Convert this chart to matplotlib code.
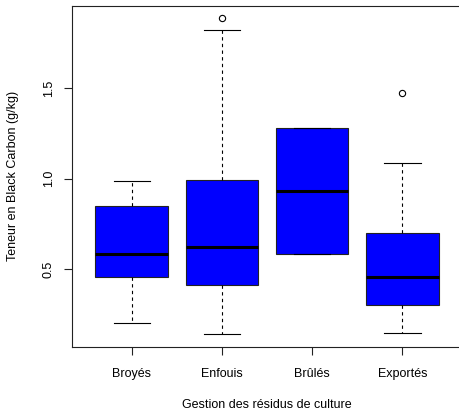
import matplotlib
matplotlib.use("Agg")
import matplotlib.pyplot as plt

plt.rcParams['font.family'] = ['Liberation Sans', 'DejaVu Sans']

# Black carbon content by crop residue management (g/kg)
categories = ["Broyés", "Enfouis", "Brûlés", "Exportés"]
whisker_low = [0.202, 0.141, 0.583, 0.150]
q1 = [0.456, 0.415, 0.583, 0.301]
medians = [0.583, 0.621, 0.930, 0.459]
q3 = [0.851, 0.994, 1.281, 0.700]
whisker_high = [0.989, 1.822, 1.281, 1.088]
outliers = [[], [1.884], [], [1.471]]

stats = []
for i, name in enumerate(categories):
    stats.append({
        "label": name,
        "whislo": whisker_low[i],
        "q1": q1[i],
        "med": medians[i],
        "q3": q3[i],
        "whishi": whisker_high[i],
        "fliers": outliers[i],
    })

fig = plt.figure(figsize=(4.59, 4.12), dpi=100)
ax = fig.add_axes([0.1569, 0.1585, 0.8497, 0.827])

ax.bxp(stats, positions=range(1, len(categories) + 1), widths=0.8,
       patch_artist=True, showfliers=True,
       boxprops=dict(facecolor="#0000ff", edgecolor="#222222", linewidth=0.8),
       medianprops=dict(color="black", linewidth=2.2, solid_capstyle="butt"),
       whiskerprops=dict(color="black", linewidth=0.8, linestyle=(0, (3, 3))),
       capprops=dict(color="black", linewidth=0.8),
       capwidths=0.4,
       flierprops=dict(marker="o", markersize=4.5, markerfacecolor="none",
                       markeredgecolor="black", markeredgewidth=0.8))

ax.set_xlim(0.34, 4.66)
ax.set_ylim(0.073, 1.952)
ax.set_yticks([0.5, 1.0, 1.5])
ax.set_yticklabels(["0.5", "1.0", "1.5"], rotation=90, va="center")
ax.set_xticks(range(1, len(categories) + 1))
ax.set_xticklabels(categories)

for s in ax.spines.values():
    s.set_linewidth(0.8)
    s.set_color("#222222")
ax.tick_params(axis="both", length=6, width=0.8, color="#222222",
               labelsize=9)
ax.tick_params(axis="x", pad=9)
ax.tick_params(axis="y", pad=6.5)

ax.set_xlabel("Gestion des résidus de culture", fontsize=9, labelpad=14)
ax.set_ylabel("Teneur en Black Carbon (g/kg)", fontsize=9, labelpad=17)

fig.savefig("out.png", dpi=100)
